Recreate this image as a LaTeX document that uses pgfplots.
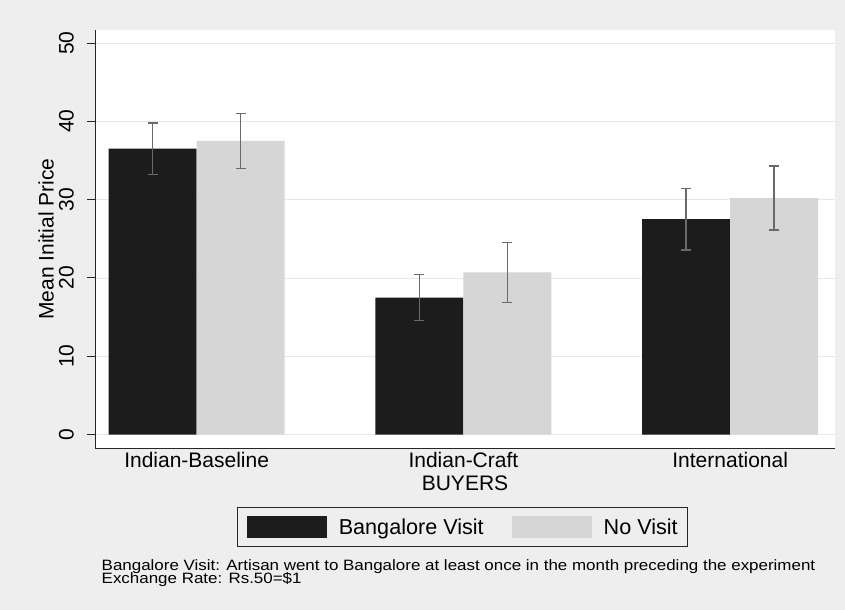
\documentclass[border=0pt]{standalone}
\usepackage{fontspec}
\setmainfont{Liberation Sans}
\usepackage{graphicx}
\usepackage{pgfplots}
\pgfplotsset{compat=1.18}

\definecolor{visit}{HTML}{1C1C1C}
\definecolor{novisit}{HTML}{D6D6D6}
\definecolor{errgray}{HTML}{6A6A6A}
\definecolor{paper}{HTML}{EEEEEE}

\newcommand{\lblfont}{\fontsize{21bp}{24bp}\selectfont}

\pgfplotsset{
  bigbox legend/.style={legend image code/.code={\fill[##1] (0bp,-11bp) rectangle (80bp,11bp);}},
  ci bars/.style={error bars/.cd, y dir=both, y explicit,
    error bar style={draw=errgray, line width=1.4pt},
    error mark options={draw=errgray, line width=1.4pt, mark size=5bp, rotate=90}},
}

\begin{document}
\begin{tikzpicture}
% page background
\fill[paper] (0,0) rectangle (845bp,-610bp);
\begin{axis}[
  at={(95bp,-448bp)}, anchor=south west,
  scale only axis, width=740bp, height=418bp,
  xmin=-0.381, xmax=2.393, ymin=-1.72, ymax=51.66,
  ybar=0pt, bar width=0.33,
  axis x line*=bottom, axis y line*=left,
  axis line style={line width=1pt, black!85},
  axis background/.style={fill=white},
  xtick={0,1,2},
  xticklabels={Indian-Baseline,Indian-Craft,International},
  xtick style={draw=none},
  ytick={0,10,20,30,40,50},
  ytick style={line width=1pt, black!85},
  tick align=outside, major tick length=8bp,
  ymajorgrids, major grid style={black!9, line width=0.8pt},
  /pgf/number format/assume math mode=true,
  tick label style={font=\lblfont},
  xticklabel style={inner sep=0pt, yshift=4bp},
  yticklabel style={rotate=90, anchor=south, inner sep=0pt},
  yticklabel shift=13bp,
  label style={font=\lblfont},
  ylabel={\lblfont Mean Initial Price},
  ylabel style={at={(axis description cs:-0.0662,0.5)}, anchor=center},
  xlabel={\lblfont BUYERS},
  xlabel style={at={(axis description cs:0.5,0)}, anchor=north, inner sep=0pt, yshift=-28bp},
  legend columns=2,
  legend style={at={(0.497,0)}, anchor=north, yshift=-59bp,
    draw=black!85, line width=1pt, fill=none,
    inner xsep=9bp, inner ysep=8.5bp,
    font=\fontsize{21.6bp}{24bp}\selectfont,
    nodes={inner sep=1bp, text height=17.5bp, text depth=2.5bp},
    /tikz/every odd column/.append style={column sep=11bp},
    /tikz/every even column/.append style={column sep=27bp}},
]
% Bangalore Visit
\addplot[fill=visit, draw=none, bigbox legend, ci bars]
  coordinates {
    (0,36.5) +- (0,3.3)
    (1,17.5) +- (0,2.95)
    (2,27.5) +- (0,3.95)
  };
\addlegendentry{Bangalore Visit}
% No Visit
\addplot[fill=novisit, draw=none, bigbox legend, ci bars]
  coordinates {
    (0,37.5) +- (0,3.5)
    (1,20.7) +- (0,3.85)
    (2,30.2) +- (0,4.1)
  };
\addlegendentry{No Visit}
\end{axis}
\node[anchor=north west, inner sep=0pt] at (101.5bp,-559bp)
  {\scalebox{1.13}[1]{\fontsize{15bp}{13.3bp}\selectfont
   \begin{tabular}{@{}l@{}}
   Bangalore Visit: Artisan went to Bangalore at least once in the month preceding the experiment\\[-1.2bp]
   Exchange Rate: Rs.50=\$1
   \end{tabular}}};
\end{tikzpicture}
\end{document}
